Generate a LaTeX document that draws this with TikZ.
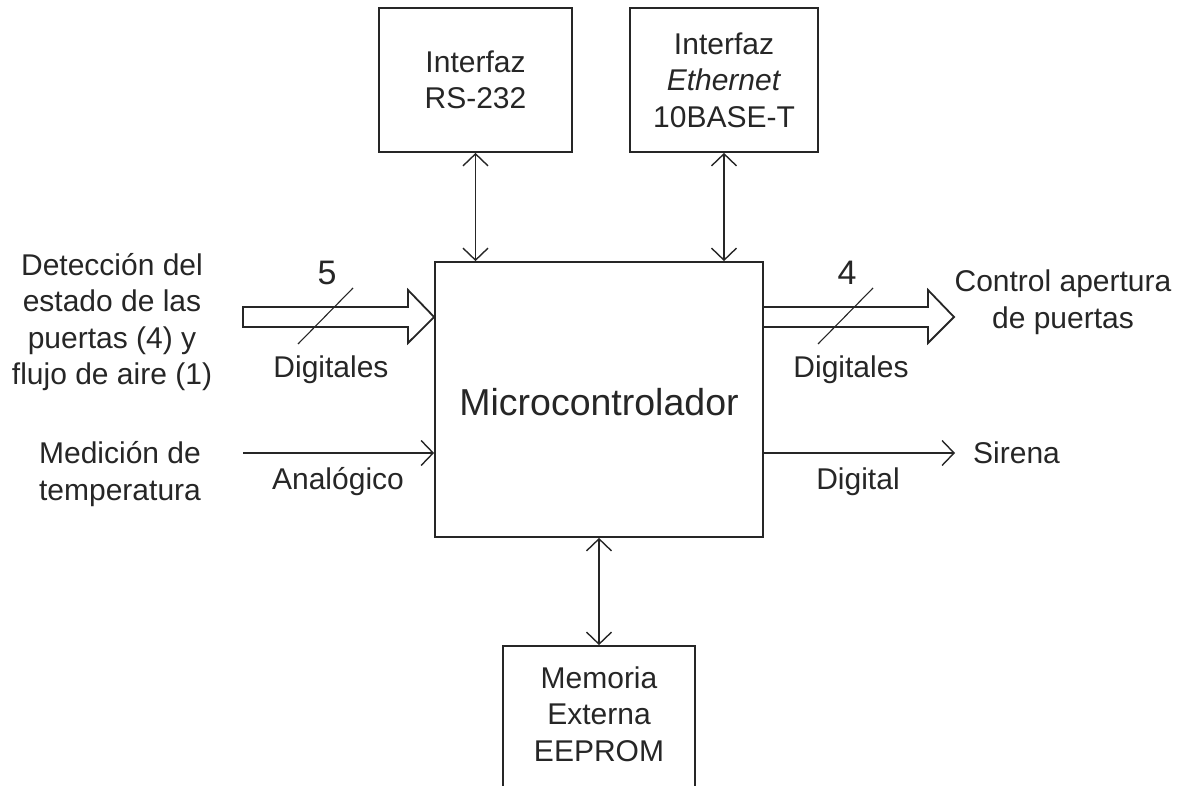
\documentclass[tikz,border=0pt]{standalone}
\usepackage{fontspec}
\setmainfont{Liberation Sans}
\usetikzlibrary{arrows.meta}
\begin{document}
\begin{tikzpicture}[x=1pt,y=-1pt,
  blk/.style={draw=black!85,line width=1.8pt,inner sep=0pt},
  txt/.style={font=\fontsize{30}{36.5}\selectfont,align=center,inner sep=0pt,text=black!85},
  conn/.style={line width=1.4pt,draw=black!85},
  biarrow/.style={conn,{Straight Barb[length=12pt,width=25pt]}-{Straight Barb[length=12pt,width=25pt]}},
  oarrow/.style={conn,-{Straight Barb[length=12pt,width=25pt]}},
  fat/.style={line width=1.8pt,draw=black!85,line join=miter},
  slash/.style={line width=1.1pt,draw=black!85}]
\useasboundingbox (0,0) rectangle (1186,786);
\clip (0,0) rectangle (1186,786);
% blocks
\node[blk,minimum width=328pt,minimum height=275pt] (main) at (599,399.5) {};
\node[txt,font=\fontsize{37.5}{44}\selectfont] (mctxt) at (599,402) {Microcontrolador};
\node[blk,minimum width=193pt,minimum height=144pt] (rs) at (475.5,80) {};
\node[txt] (rstxt) at (475.5,80) {Interfaz\\RS-232};
\node[blk,minimum width=188pt,minimum height=144pt] (eth) at (724,80) {};
\node[txt] (ethtxt) at (724,80) {Interfaz\\\textit{Ethernet}\\10BASE-T};
\node[blk,minimum width=192pt,minimum height=200pt] (mem) at (599,746) {};
\node[txt] (memtxt) at (599,714) {Memoria\\Externa\\EEPROM};
% vertical bidirectional arrows
\draw[biarrow] (rs.south) -- (rs.south |- main.north);
\draw[biarrow] (eth.south) -- (eth.south |- main.north);
\draw[biarrow] (main.south) -- (mem.north);
% left fat arrow
\coordinate (inA) at (243,317);
\draw[fat] (243,307) -- (408,307) -- (408,290) -- (inA -| main.west) -- (408,343) -- (408,327) -- (243,327) -- cycle;
\draw[slash] (298,344) -- (353,288);
\node[txt,font=\fontsize{34}{40}\selectfont] (n5) at (327,273) {5};
\node[txt] (dig1) at (331,370) {Digitales};
% right fat arrow
\coordinate (outA) at (954,317);
\draw[fat] (main.east |- 0,307) -- (928,307) -- (928,290) -- (outA) -- (928,343) -- (928,327) -- (main.east |- 0,327);
\draw[slash] (818,344) -- (873,288);
\node[txt,font=\fontsize{34}{40}\selectfont] (n4) at (847,273) {4};
\node[txt] (dig2) at (851,370) {Digitales};
% thin arrows
\coordinate (medIn) at (243,453);
\draw[oarrow] (medIn) -- (medIn -| main.west);
\node[txt] (ana) at (338,482) {Analógico};
\coordinate (sirOut) at (955,453);
\draw[oarrow] (sirOut -| main.east) -- (sirOut);
\node[txt] (digl) at (858,482) {Digital};
% outer labels
\node[txt] (det) at (112,322) {Detección del\\estado de las\\puertas (4) y\\flujo de aire (1)};
\node[txt] (med) at (120,474) {Medición de\\temperatura};
\node[txt] (ctl) at (1063,302) {Control apertura\\de puertas};
\node[txt,anchor=west] (sir) at (973,453) {Sirena};
\end{tikzpicture}
\end{document}
